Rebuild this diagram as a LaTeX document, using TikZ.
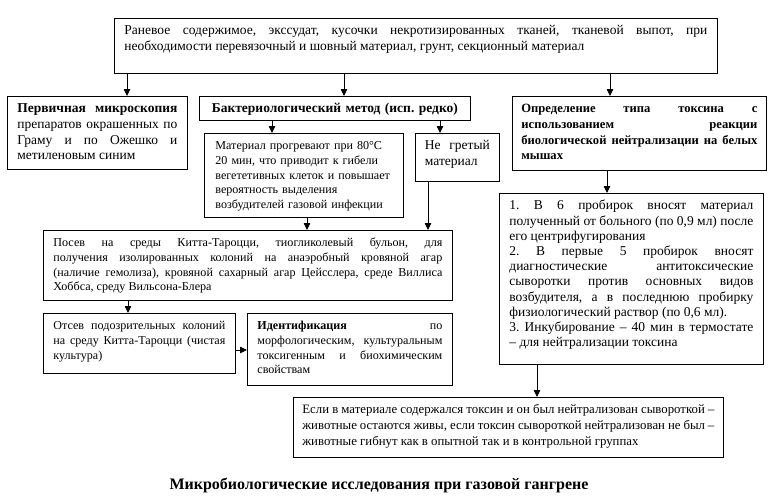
\documentclass[tikz,border=0pt]{standalone}
\usepackage{fontspec}
\setmainfont{Liberation Serif}
\usetikzlibrary{arrows.meta}
\usetikzlibrary{positioning}
\frenchspacing

\begin{document}
\begin{tikzpicture}[x=1pt,y=-1pt,
	box/.style={draw,line width=0.8pt,anchor=north west,align=justify,inner xsep=10pt,inner ysep=5pt,text height=11.5pt,font=\fontsize{13.5}{15.6}\selectfont},
	smalltext/.style={font=\fontsize{12.1}{14.6}\selectfont},
	arr/.style={-{Triangle[width=6.5pt,length=7pt]},line width=0.8pt},
	]
	\useasboundingbox (0,0) rectangle (771,501);
	
	% source material
	\node[box,text width=583pt,text depth=33.5pt] (src) at (114,18)
	{Раневое содержимое, экссудат, кусочки некротизированных тканей, тканевой выпот, при\linebreak
		необходимости перевязочный и шовный материал, грунт, секционный материал};
	
	% three methods
	\node[box,text width=160pt,text depth=51.5pt] (prim) at (7,96)
	{\textbf{Первичная микроскопия}\linebreak препаратов окрашенных по\linebreak Граму и по Ожешко и\linebreak метиленовым синим};
	\node[box,align=center,text width=251pt,text depth=2.5pt] (bact) at (199,96)
	{\textbf{Бактериологический метод (исп. редко)}};
	\node[box,inner xsep=9pt,text width=236pt,text depth=52.5pt,font=\fontsize{12.6}{15.6}\selectfont] (tox) at (512,96)
	{\textbf{Определение типа токсина с\linebreak использованием реакции\linebreak биологической нейтрализации на белых\linebreak мышах}};
	
	% bacteriological branch
	\node[box,smalltext,align=left,inner xsep=11pt,text width=177pt,text depth=62.5pt] (heat) at (204,133)
	{Материал прогревают при 80°С\\ 20 мин, что приводит к гибели\\ вегететивных клеток и повышает\\ вероятность выделения\\ возбудителей газовой инфекции};
	\node[box,inner xsep=9.5pt,text width=65pt,text depth=26.5pt] (noheat) at (415,133)
	{Не гретый\linebreak материал};
	\node[box,smalltext,text width=389pt,text depth=48.5pt] (sow) at (43,230)
	{Посев на среды Китта-Тароцци, тиогликолевый бульон, для\linebreak
		получения изолированных колоний на анаэробный кровяной агар\linebreak
		(наличие гемолиза), кровяной сахарный агар Цейсслера, среде Виллиса\linebreak
		Хоббса, среду Вильсона-Блера};
	\node[box,smalltext,text width=172pt,text depth=38.5pt] (subc) at (43,313)
	{Отсев подозрительных колоний\linebreak на среду Китта-Тароцци (чистая\linebreak культура)};
	\node[box,smalltext,text width=185pt,text depth=50.5pt] (ident) at (247,313)
	{\textbf{Идентификация} по\linebreak морфологическим, культуральным\linebreak токсигенным и биохимическим\linebreak свойствам};
	
	% toxin branch
	\node[box,text width=244pt,text depth=149.5pt,font=\fontsize{13.5}{15.2}\selectfont] (steps) at (499,193)
	{1. В 6 пробирок вносят материал\linebreak полученный от больного (по 0,9 мл) после\linebreak его центрифугирования\\
		2. В первые 5 пробирок вносят\linebreak диагностические антитоксические\linebreak сыворотки против основных видов\linebreak возбудителя, а в последнюю пробирку\linebreak физиологический раствор (по 0,6 мл).\\
		3. Инкубирование – 40 мин в термостате\linebreak – для нейтрализации токсина};
	\node[box,text width=412pt,inner xsep=9pt,text depth=38.5pt,font=\fontsize{12.8}{15.6}\selectfont] (res) at (293,397)
	{Если в материале содержался токсин и он был нейтрализован сывороткой~–\linebreak
		животные остаются живы, если токсин сывороткой нейтрализован не был~–\linebreak
		животные гибнут как в опытной так и в контрольной группах};
	
	\node[font=\bfseries\fontsize{16}{19}\selectfont] (title) at (379,485)
	{Микробиологические исследования при газовой гангрене};
	
	% connectors
	\draw[arr] (src.south -| 127,0) -- (prim.north -| 127,0);
	\draw[arr] (src.south -| 344,0) -- (bact.north -| 344,0);
	\draw[arr] (src.south -| 610,0) -- (tox.north -| 610,0);
	\draw[arr] (bact.south -| 272,0) -- (heat.north -| 272,0);
	\draw[arr] (bact.south -| 440,0) -- (noheat.north -| 440,0);
	\draw[arr] (heat.south -| 307,0) -- (sow.north -| 307,0);
	\draw[arr] (noheat.south -| 428,0) -- (sow.north -| 428,0);
	\draw[arr] (tox.south -| 607,0) -- (steps.north -| 607,0);
	\draw[arr] (sow.south -| 128,0) -- (subc.north -| 128,0);
	\draw[arr] (subc.east |- 0,350) -- (ident.west |- 0,350);
	\draw[arr] (steps.south -| 537,0) -- (res.north -| 537,0);
\end{tikzpicture}
\end{document}
